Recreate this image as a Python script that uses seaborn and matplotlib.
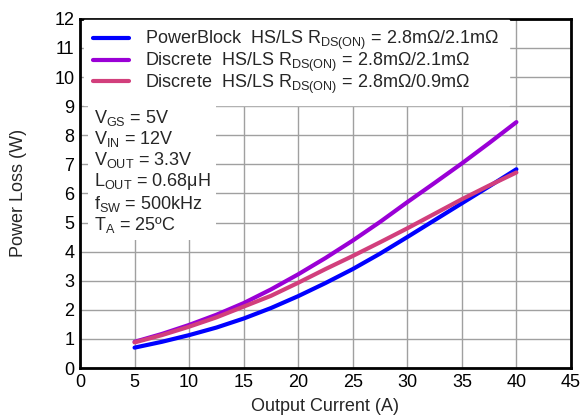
import pandas as pd
import matplotlib.pyplot as plt
import seaborn as sns

# Values (every 2.5 A)
current = [5, 7.5, 10, 12.5, 15, 17.5, 20, 22.5, 25, 27.5, 30, 32.5, 35, 37.5, 40]
powerblock = [0.70, 0.90, 1.13, 1.39, 1.70, 2.06, 2.47, 2.92, 3.40, 3.93, 4.50, 5.08, 5.66, 6.24, 6.83]
discrete_21 = [0.90, 1.17, 1.48, 1.83, 2.23, 2.70, 3.22, 3.78, 4.38, 5.02, 5.70, 6.36, 7.03, 7.73, 8.45]
discrete_09 = [0.88, 1.13, 1.42, 1.74, 2.11, 2.48, 2.93, 3.40, 3.85, 4.32, 4.80, 5.30, 5.80, 6.27, 6.72]

labels = [
    r'PowerBlock  HS/LS R$_{\mathregular{DS(ON)}}$ = 2.8m$\Omega$/2.1m$\Omega$',
    r'Discrete  HS/LS R$_{\mathregular{DS(ON)}}$ = 2.8m$\Omega$/2.1m$\Omega$',
    r'Discrete  HS/LS R$_{\mathregular{DS(ON)}}$ = 2.8m$\Omega$/0.9m$\Omega$',
]
colors = ['#0000FF', '#9A00D6', '#D23F7C']

n = len(current)
df = pd.DataFrame({
    'Current': current * 3,
    'Loss': powerblock + discrete_21 + discrete_09,
    'Series': [labels[0]] * n + [labels[1]] * n + [labels[2]] * n,
})

sns.set_style('white')
plt.rcParams['font.family'] = ['Liberation Sans', 'DejaVu Sans']
plt.rcParams['mathtext.fontset'] = 'custom'
plt.rcParams['mathtext.rm'] = 'Liberation Sans'
plt.rcParams['mathtext.it'] = 'Liberation Sans'
plt.rcParams['mathtext.sf'] = 'Liberation Sans'

fig = plt.figure(figsize=(5.82, 4.19), dpi=100)
ax = fig.add_axes([0.1375, 0.1217, 0.8435, 0.8334])

sns.lineplot(data=df, x='Current', y='Loss', hue='Series', palette=colors,
             linewidth=3, ax=ax, zorder=3)

ax.set_xlim(0, 45)
ax.set_ylim(0, 12)
ax.set_xticks(range(0, 46, 5))
ax.set_yticks(range(0, 13))
ax.grid(True, color='#A0A0A0', linewidth=1)
ax.set_axisbelow(True)
ax.tick_params(length=0, labelsize=13, colors='black', pad=4)
for s in ax.spines.values():
    s.set_color('black')
    s.set_linewidth(2)

ax.set_xlabel('Output Current (A)', fontsize=13, labelpad=5)
ax.set_ylabel('Power Loss (W)', fontsize=13, labelpad=20)

leg = ax.legend(loc='upper left', bbox_to_anchor=(0.008, 0.997), fontsize=13,
                frameon=True, fancybox=False, borderpad=0.5,
                labelspacing=-0.08, handlelength=2.0, handletextpad=0.9,
                borderaxespad=0)
leg.get_frame().set_facecolor('white')
leg.get_frame().set_edgecolor('white')
leg.get_frame().set_alpha(1)
leg.set_zorder(5)

conditions = '\n'.join([
    r'V$_{\mathregular{GS}}$ = 5V',
    r'V$_{\mathregular{IN}}$ = 12V',
    r'V$_{\mathregular{OUT}}$ = 3.3V',
    r'L$_{\mathregular{OUT}}$ = 0.68$\mathregular{\mu}$H',
    r'f$_{\mathregular{SW}}$ = 500kHz',
    r'T$_{\mathregular{A}}$ = 25ºC',
])
ax.text(0.028, 0.745, conditions, transform=ax.transAxes, fontsize=13,
        va='top', ha='left', linespacing=1.08, zorder=4,
        bbox=dict(facecolor='white', edgecolor='none', pad=4))

plt.savefig('out.png', dpi=100)
